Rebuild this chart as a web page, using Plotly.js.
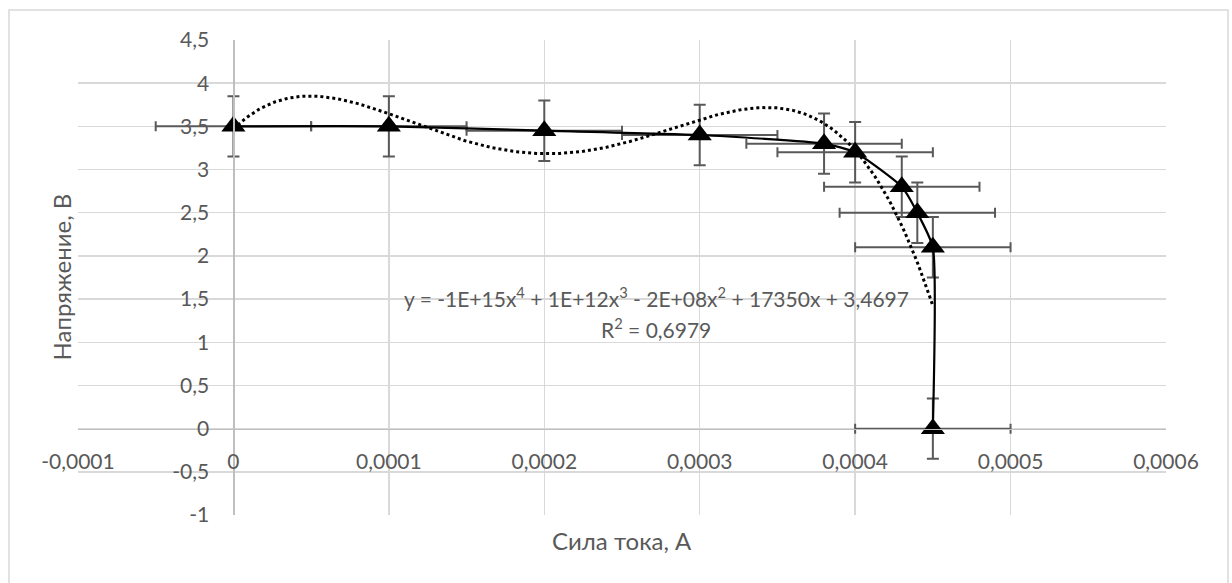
<!DOCTYPE html>
<html>
<head>
<meta charset="utf-8">
<script src="https://cdn.plot.ly/plotly-3.0.1.min.js"></script>
<style>
html,body{margin:0;padding:0;background:#fff;}
#chart{width:1232px;height:583px;}
</style>
</head>
<body>
<div id="chart"></div>
<script>
// ---- data ----
const current = [0, 0.0001, 0.0002, 0.0003, 0.00038, 0.0004, 0.00043, 0.00044, 0.00045, 0.00045];
const voltage = [3.5, 3.5, 3.45, 3.4, 3.3, 3.2, 2.8, 2.5, 2.1, 0];
const currentError = 0.00005;
const voltageError = 0.35;

const xTickVals = [-0.0001, 0, 0.0001, 0.0002, 0.0003, 0.0004, 0.0005, 0.0006];
const xTickLabels = ['-0,0001', '0', '0,0001', '0,0002', '0,0003', '0,0004', '0,0005', '0,0006'];
const yTickVals = [-1, -0.5, 0, 0.5, 1, 1.5, 2, 2.5, 3, 3.5, 4, 4.5];
const yTickLabels = ['-1', '-0,5', '0', '0,5', '1', '1,5', '2', '2,5', '3', '3,5', '4', '4,5'];

const xTitle = 'Сила тока, А';
const yTitle = 'Напряжение, В';
const equationText = 'y = -1E+15x<sup>4</sup> + 1E+12x<sup>3</sup> - 2E+08x<sup>2</sup> + 17350x + 3,4697';
const r2Text = 'R<sup>2</sup> = 0,6979';

// ---- 4th order polynomial trendline (least squares, as Excel does) ----
function polyFit(xs, ys, deg) {
  const s = 1e4; // scale for conditioning
  const n = deg + 1;
  const A = [];
  for (let i = 0; i < n; i++) { A.push(new Array(n + 1).fill(0)); }
  for (let k = 0; k < xs.length; k++) {
    const u = xs[k] * s;
    for (let i = 0; i < n; i++) {
      for (let j = 0; j < n; j++) A[i][j] += Math.pow(u, i + j);
      A[i][n] += ys[k] * Math.pow(u, i);
    }
  }
  for (let c = 0; c < n; c++) {
    let p = c;
    for (let r = c + 1; r < n; r++) if (Math.abs(A[r][c]) > Math.abs(A[p][c])) p = r;
    [A[c], A[p]] = [A[p], A[c]];
    for (let r = 0; r < n; r++) {
      if (r === c) continue;
      const f = A[r][c] / A[c][c];
      for (let j = c; j <= n; j++) A[r][j] -= f * A[c][j];
    }
  }
  const coef = A.map((row, i) => row[n] / row[i]);
  return x => { const u = x * s; let v = 0; for (let i = 0; i < n; i++) v += coef[i] * Math.pow(u, i); return v; };
}
const fit = polyFit(current, voltage, 4);
const xMin = Math.min(...current), xMax = Math.max(...current);
const trendX = [], trendY = [];
for (let i = 0; i <= 300; i++) { const x = xMin + (xMax - xMin) * i / 300; trendX.push(x); trendY.push(fit(x)); }

const gray = '#595959';
const traces = [
  {
    x: current, y: voltage, type: 'scatter', mode: 'lines+markers',
    line: {color: '#000000', width: 2.2, shape: 'spline', smoothing: 0.5},
    marker: {symbol: 'triangle-up', size: 21, color: '#000000'},
    error_x: {type: 'constant', value: currentError, color: gray, thickness: 2, width: 5},
    error_y: {type: 'constant', value: voltageError, color: gray, thickness: 2, width: 6},
    hoverinfo: 'skip', showlegend: false
  },
  {
    x: trendX, y: trendY, type: 'scatter', mode: 'lines',
    line: {color: '#000000', width: 3, dash: 'dot'},
    hoverinfo: 'skip', showlegend: false
  }
];

const L = 78, R = 1166, T = 40, B = 515;
const px = v => (v - L) / (R - L);
const py = v => (B - v) / (B - T);

const layout = {
  width: 1232, height: 583,
  margin: {l: L, r: 1232 - R, t: T, b: 583 - B, pad: 0},
  paper_bgcolor: '#ffffff', plot_bgcolor: '#ffffff',
  separators: ', ',
  font: {family: 'Lato, "Open Sans", sans-serif', size: 21, color: gray},
  showlegend: false,
  xaxis: {
    range: [-0.0001, 0.0006], tickmode: 'array', tickvals: xTickVals, ticktext: xTickLabels,
    showgrid: true, gridcolor: '#d9d9d9', gridwidth: 1.5, zeroline: false,
    showline: true, linecolor: '#bfbfbf', linewidth: 1.5,
    anchor: 'free', position: 1 / 5.5, ticks: '', ticklabelstandoff: 14,
    tickfont: {size: 21, color: gray}
  },
  yaxis: {
    range: [-1, 4.5], tickmode: 'array', tickvals: yTickVals, ticktext: yTickLabels,
    showgrid: true, gridcolor: '#d9d9d9', gridwidth: 1.5, zeroline: false,
    showline: true, linecolor: '#bfbfbf', linewidth: 1.5,
    anchor: 'free', position: 1 / 7, ticks: '', ticklabelstandoff: 20,
    tickfont: {size: 21, color: gray}
  },
  annotations: [
    {text: yTitle, xref: 'paper', yref: 'paper', x: px(61), y: 0.5, textangle: -90,
     showarrow: false, font: {size: 24, color: gray}, xanchor: 'center', yanchor: 'middle'},
    {text: xTitle, xref: 'paper', yref: 'paper', x: 0.5, y: py(540),
     showarrow: false, font: {size: 24, color: gray}, xanchor: 'center', yanchor: 'middle'},
    {text: equationText, xref: 'paper', yref: 'paper', x: px(656), y: py(297),
     showarrow: false, font: {size: 21, color: gray}, xanchor: 'center', yanchor: 'middle'},
    {text: r2Text, xref: 'paper', yref: 'paper', x: px(656), y: py(328),
     showarrow: false, font: {size: 21, color: gray}, xanchor: 'center', yanchor: 'middle'}
  ],
  shapes: [
    {type: 'rect', xref: 'paper', yref: 'paper', x0: px(9), x1: px(1228), y0: py(600), y1: py(10),
     line: {color: '#d9d9d9', width: 1.5}, fillcolor: 'rgba(0,0,0,0)', layer: 'below'}
  ]
};

Plotly.newPlot('chart', traces, layout, {staticPlot: true, displayModeBar: false});
</script>
</body>
</html>
